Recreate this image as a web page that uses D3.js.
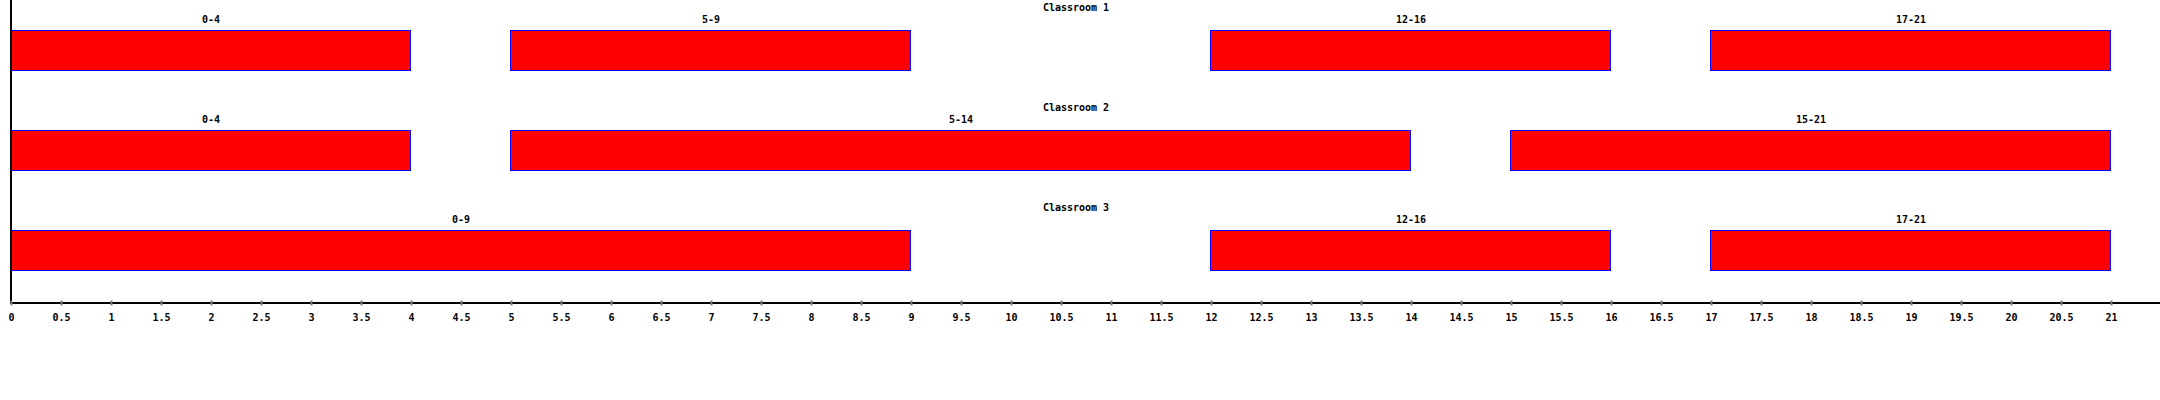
<!DOCTYPE html>
<html>
<head>
<meta charset="utf-8">
<script src="https://cdn.jsdelivr.net/npm/d3@7"></script>
<style>
  html, body { margin: 0; padding: 0; background: #fff; }
  svg { display: block; }
  text { font-family: "DejaVu Sans Mono", "Liberation Mono", monospace; font-weight: bold; font-size: 10px; fill: #000; }
</style>
</head>
<body>
<script>
const rooms = ["Classroom 1", "Classroom 2", "Classroom 3"];
const segRoom  = ["Classroom 1", "Classroom 1", "Classroom 1", "Classroom 1",
                  "Classroom 2", "Classroom 2", "Classroom 2",
                  "Classroom 3", "Classroom 3", "Classroom 3"];
const segStart = [0, 5, 12, 17, 0, 5, 15, 0, 12, 17];
const segEnd   = [4, 9, 16, 21, 4, 14, 21, 9, 16, 21];
const tickValues = d3.range(0, 21.5, 0.5);

const W = 2160, H = 400;
const svg = d3.select("body").append("svg").attr("width", W).attr("height", H);

const x = d3.scaleLinear().domain([0, 21]).range([11, 2111]);
const y = d3.scaleBand().domain(rooms).range([0, 300]);

const segs = segRoom.map((r, i) => ({ room: r, s: segStart[i], e: segEnd[i] }));

// room titles
svg.selectAll("text.title").data(rooms).enter().append("text")
  .attr("class", "title")
  .attr("x", 1076)
  .attr("y", d => y(d) + 7)
  .attr("text-anchor", "middle")
  .attr("dominant-baseline", "central")
  .text(d => d);

// bars
svg.selectAll("rect.bar").data(segs).enter().append("rect")
  .attr("class", "bar")
  .attr("x", d => x(d.s) - 0.5)
  .attr("y", d => y(d.room) + 30.5)
  .attr("width", d => x(d.e) - x(d.s))
  .attr("height", 40)
  .attr("fill", "#ff0000")
  .attr("stroke", "#0000ff")
  .attr("stroke-width", 1)
  .attr("shape-rendering", "crispEdges");

// bar labels
svg.selectAll("text.lbl").data(segs).enter().append("text")
  .attr("class", "lbl")
  .attr("x", d => (x(d.s) + x(d.e)) / 2)
  .attr("y", d => y(d.room) + 19.5)
  .attr("text-anchor", "middle")
  .attr("dominant-baseline", "central")
  .text(d => d.s + "-" + d.e);

// axes lines
svg.append("line").attr("x1", 11).attr("x2", 11).attr("y1", 0).attr("y2", 304)
  .attr("stroke", "#000").attr("stroke-width", 2).attr("shape-rendering", "crispEdges");
svg.append("line").attr("x1", 10).attr("x2", W).attr("y1", 303).attr("y2", 303)
  .attr("stroke", "#000").attr("stroke-width", 2).attr("shape-rendering", "crispEdges");

// bottom axis ticks
const axis = d3.axisBottom(x).tickValues(tickValues).tickSize(5).tickFormat(d3.format("~g"));
const g = svg.append("g").attr("transform", "translate(0,300.5)").call(axis);
g.select(".domain").remove();
g.selectAll(".tick line").attr("stroke", "#808080").attr("stroke-width", 2);
g.selectAll(".tick text")
  .attr("y", 17.2)
  .attr("dy", null)
  .attr("dominant-baseline", "central")
  .style("font-family", "'DejaVu Sans Mono', 'Liberation Mono', monospace")
  .style("font-weight", "bold")
  .style("font-size", "10px")
  .attr("fill", "#000");
</script>
</body>
</html>
